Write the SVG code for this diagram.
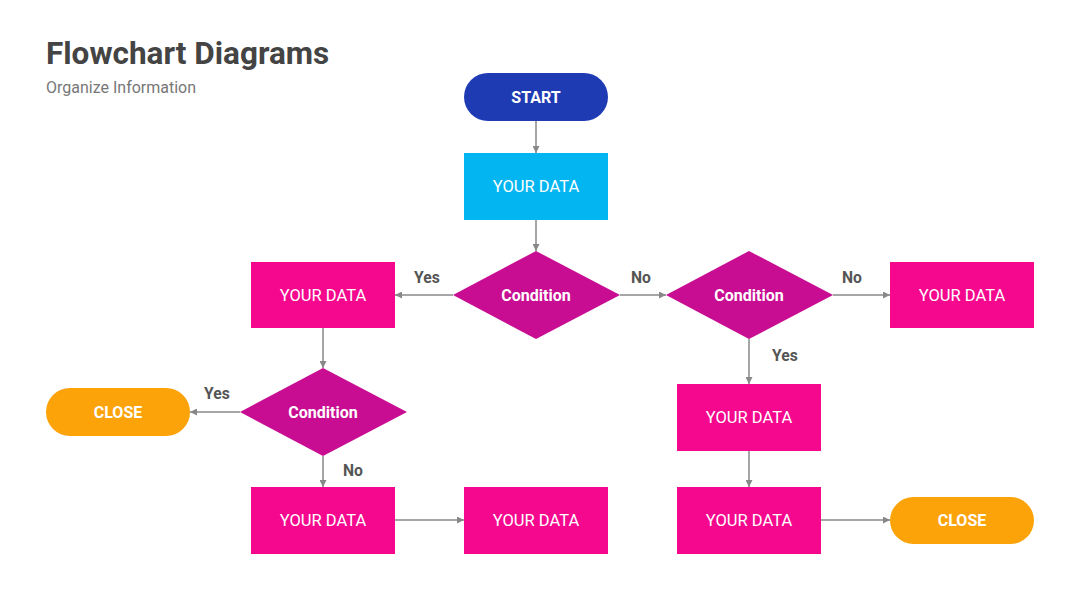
<svg xmlns="http://www.w3.org/2000/svg" width="1080" height="608" viewBox="0 0 1080 608">
<defs>
<marker id="ah" viewBox="0 0 10 10" refX="10" refY="5" markerWidth="7" markerHeight="7" markerUnits="userSpaceOnUse" orient="auto"><path d="M0,0 L10,5 L0,10 Z" fill="#888"/></marker>
<style>
text{font-family:Roboto,"Liberation Sans",sans-serif}
.t{fill:#fff;font-size:16.5px;text-anchor:middle;dominant-baseline:central}
.b{font-weight:bold;font-size:16px}
.lbl{fill:#555;font-size:15.7px;font-weight:bold}
.c line{stroke:#888;stroke-width:1.5;marker-end:url(#ah)}
.box{fill:#F5078E}
.dia{fill:#C80D92}
.close{fill:#FDA30A}
</style>
</defs>
<rect width="1080" height="608" fill="#fff"/>
<text x="46" y="64" font-size="31.5" font-weight="bold" fill="#444">Flowchart Diagrams</text>
<text x="46" y="93" font-size="16" fill="#777">Organize Information</text>
<g class="c" id="connectors">
<line x1="536" y1="121" x2="536" y2="153"/>
<line x1="536" y1="220" x2="536" y2="251"/>
<line x1="453" y1="295" x2="395" y2="295"/>
<line x1="620" y1="295" x2="666" y2="295"/>
<line x1="833" y1="295" x2="890" y2="295"/>
<line x1="749" y1="339" x2="749" y2="384"/>
<line x1="749" y1="451" x2="749" y2="487"/>
<line x1="821" y1="520" x2="890" y2="520"/>
<line x1="323" y1="328" x2="323" y2="368"/>
<line x1="240" y1="412" x2="190" y2="412"/>
<line x1="323" y1="456" x2="323" y2="487"/>
<line x1="395" y1="520" x2="464" y2="520"/>
</g>
<g id="labels">
<text class="lbl" x="414" y="283">Yes</text>
<text class="lbl" x="631" y="283">No</text>
<text class="lbl" x="842" y="283">No</text>
<text class="lbl" x="772" y="361">Yes</text>
<text class="lbl" x="204" y="399">Yes</text>
<text class="lbl" x="343" y="476">No</text>
</g>
<g id="start"><rect x="464" y="73" width="144" height="48" rx="24" fill="#1F3BB3"/><text class="t b" x="536" y="97">START</text></g>
<g id="data1"><rect x="464" y="153" width="144" height="67" fill="#03B6F1"/><text class="t" x="536" y="186.5">YOUR DATA</text></g>
<g id="cond1"><polygon class="dia" points="536,251 620,295 536,339 453,295"/><text class="t b" x="536" y="295">Condition</text></g>
<g id="cond2"><polygon class="dia" points="749,251 833,295 749,339 666,295"/><text class="t b" x="749" y="295">Condition</text></g>
<g id="cond3"><polygon class="dia" points="323,368 407,412 323,456 240,412"/><text class="t b" x="323" y="412">Condition</text></g>
<g id="dataL"><rect class="box" x="251" y="262" width="144" height="66"/><text class="t" x="323" y="295">YOUR DATA</text></g>
<g id="dataR"><rect class="box" x="890" y="262" width="144" height="66"/><text class="t" x="962" y="295">YOUR DATA</text></g>
<g id="dataRM"><rect class="box" x="677" y="384" width="144" height="67"/><text class="t" x="749" y="417.5">YOUR DATA</text></g>
<g id="dataRB"><rect class="box" x="677" y="487" width="144" height="67"/><text class="t" x="749" y="520.5">YOUR DATA</text></g>
<g id="dataLB"><rect class="box" x="251" y="487" width="144" height="67"/><text class="t" x="323" y="520.5">YOUR DATA</text></g>
<g id="dataMB"><rect class="box" x="464" y="487" width="144" height="67"/><text class="t" x="536" y="520.5">YOUR DATA</text></g>
<g id="closeL"><rect class="close" x="46" y="388" width="144" height="48" rx="24"/><text class="t b" x="118" y="412">CLOSE</text></g>
<g id="closeR"><rect class="close" x="890" y="497" width="144" height="47" rx="23.5"/><text class="t b" x="962" y="520.5">CLOSE</text></g>
</svg>
